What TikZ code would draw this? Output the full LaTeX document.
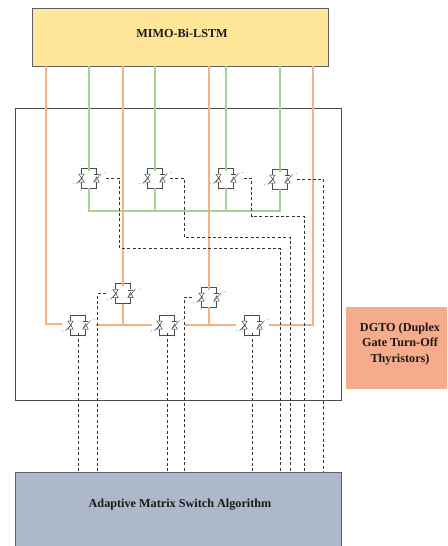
\documentclass[tikz,border=0pt]{standalone}
\usepackage{fontspec}
\setmainfont{Liberation Serif}
\definecolor{cOrange}{HTML}{F4B183}
\definecolor{cGreen}{HTML}{A9D18E}
\definecolor{cYellow}{HTML}{FFE699}
\definecolor{cBlue}{HTML}{ADB9CA}
\definecolor{cSalmon}{HTML}{F6AB8C}
\definecolor{cEdge}{HTML}{5F5F5F}
\tikzset{
  block/.style={draw=cEdge,line width=1pt,inner sep=0pt},
  blocktext/.style={font=\bfseries\fontsize{12.2}{15.5}\selectfont,text=black!90,align=center},
  orangeline/.style={draw=cOrange,line width=1.1pt},
  greenline/.style={draw=cGreen,line width=1.1pt},
  ctrl/.style={draw=black!80,line width=1pt,dash pattern=on 3pt off 2.4pt},
  swbox/.style={draw=black!70,line width=.7pt,minimum width=15pt,minimum height=20pt,inner sep=0pt},
  swmark/.style={draw=black!70,line width=.5pt},
}
\newcommand{\swsym}[1]{%
  \begin{scope}[shift={(#1.center)}]
    \fill[white] (-10,-4.2) rectangle (-5,4.2);
    \fill[white] (5,-4.2) rectangle (10,4.2);
    \draw[swmark,fill=white] (-10.2,-4) -- (-4.8,-4) -- (-7.5,0) -- cycle;
    \draw[swmark,fill=white] (-10.2,4) -- (-4.8,4) -- (-7.5,0) -- cycle;
    \draw[swmark,fill=white] (4.8,4) -- (10.2,4) -- (7.5,-1) -- cycle;
    \draw[swmark] (4.8,-3.5) -- (10.2,-3.5);
    \draw[swmark] (-12.5,5.5) -- (-6,-.5);
    \draw[swmark] (5.5,3.5) -- (12.5,-4.5);
    \fill[black!55] (-15.5,5.8) circle (.5);
    \fill[black!55] (16,-5.5) circle (.5);
    \foreach \x in {-8,0,8} {\fill[black!45] (\x,-12.5) circle (.45);}
    \foreach \x in {-8,8} {\fill[black!45] (\x,12.5) circle (.45);}
  \end{scope}}
\begin{document}
\begin{tikzpicture}[x=1pt,y=-1pt]
\useasboundingbox (0,0) rectangle (447,546);
% blocks
\node[block,fill=cYellow,minimum width=296pt,minimum height=58pt] (lstm) at (180,37) {};
\node[blocktext] (lstmtxt) at (182,33) {MIMO-Bi-LSTM};
\node[block,fill=white,draw=black!70,minimum width=326pt,minimum height=292pt] (frame) at (178,254) {};
\node[block,fill=cBlue,minimum width=326pt,minimum height=80pt] (algo) at (178,512) {};
\node[blocktext] (algotxt) at (180,505) {Adaptive Matrix Switch Algorithm};
\node[fill=cSalmon,minimum width=101pt,minimum height=82pt,inner sep=0pt] (dgto) at (396.5,348) {};
\node[blocktext] (dgtotxt) at (400,344) {DGTO (Duplex\\Gate Turn-Off\\Thyristors)};
% free ends of the lines
\foreach \n/\x/\y in {oa/46/66,ob/123/66,oc/209/66,od/313/66,ga/89/66,gb/155/66,gc/226/66,gd/280/66,
  ab/78/472,ac/97.5/472,ad/167/472,ae/184.5/472,af/252/472,ag/280.5/472,ah/290.5/472,ai/304.5/472,aj/323.5/472,
  ka/46/324,kc/62/324,kb/313/325,gl/89/211,gr/280/211}
  {\coordinate (\n) at (\x,\y);}
% switches
\foreach \n/\x/\y in {s1/89/178,s2/155/178,s3/226/178,s4/280/179,
  s5/123/293.5,s6/209/297,s7/78/325,s8/167/325,s9/252/325}
  {\node[swbox] (\n) at (\x,\y) {};}
% green lines
\draw[greenline] (ga) -- ([yshift=-3pt]s1.north);
\draw[greenline] (gb) -- ([yshift=-3pt]s2.north);
\draw[greenline] (gc) -- ([yshift=-3pt]s3.north);
\draw[greenline] (gd) -- ([yshift=-3pt]s4.north);
\draw[greenline] (s1.south) -- (gl) -- (gr) -- (s4.south);
\draw[greenline] (s2.south) -- (s2.south |- gl);
\draw[greenline] (s3.south) -- (s3.south |- gl);
% orange lines
\draw[orangeline] (oa) -- (ka) -- (kc);
\draw[orangeline] (ob) -- ([yshift=-3pt]s5.north);
\draw[orangeline] (oc) -- ([yshift=-3pt]s6.north);
\draw[orangeline] (od) -- (kb) -- ([xshift=9pt]s9.east);
\draw[orangeline] ([xshift=10pt]s7.east) -- ([xshift=-7pt]s8.west);
\draw[orangeline] ([xshift=10pt]s8.east) -- ([xshift=-8pt]s9.west);
\draw[orangeline] (s5.south) -- (s5.south |- s7.center);
\draw[orangeline] (s6.south) -- (s6.south |- s7.center);
% switch symbols
\foreach \n in {s1,s2,s3,s4,s5,s6,s7,s8,s9} {\swsym{\n}}
% dashed control lines
\draw[ctrl] ([xshift=9pt]s1.east) -| (119.5,248.5) -| (ag);
\draw[ctrl] ([xshift=7pt]s2.east) -| (184.5,237.5) -| (ah);
\draw[ctrl] ([xshift=10pt]s3.east) -| (251.5,216.5) -| (ai);
\draw[ctrl] ([xshift=9pt]s4.east) -| (aj);
\draw[ctrl] ([xshift=-9pt]s5.west) -| (ac);
\draw[ctrl] ([xshift=-9pt]s6.west) -| (ae);
\draw[ctrl] ([yshift=2pt]s7.south) -- (ab);
\draw[ctrl] ([yshift=2pt]s8.south) -- (ad);
\draw[ctrl] ([yshift=2pt]s9.south) -- (af);
\end{tikzpicture}
\end{document}
